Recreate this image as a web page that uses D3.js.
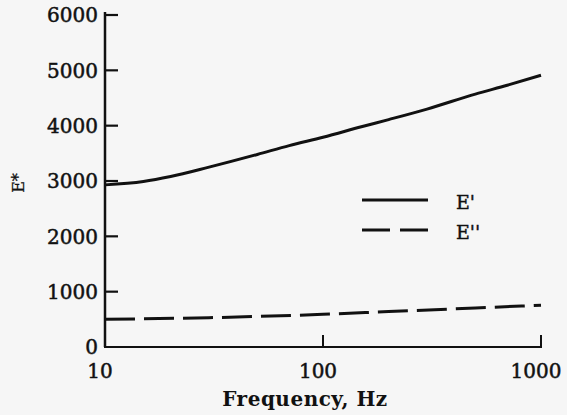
<!DOCTYPE html>
<html><head><meta charset="utf-8">
<script src="https://cdn.jsdelivr.net/npm/d3@7"></script>
<style>
html,body{margin:0;padding:0;background:#f6f6f6;}
svg{display:block;}
text{font-family:"DejaVu Serif","Liberation Serif",serif;fill:#111;}
</style></head>
<body>
<svg id="c" width="567" height="415"></svg>
<script>
// Data
const freqEp = [10, 15, 20, 30, 50, 70, 100, 150, 200, 300, 500, 700, 1000];
const valEp  = [2930, 2990, 3080, 3250, 3480, 3640, 3790, 3980, 4110, 4300, 4570, 4730, 4910];
const freqEpp = [10, 30, 100, 200, 500, 1000];
const valEpp  = [500, 530, 590, 640, 705, 755];
const yTicks = [0, 1000, 2000, 3000, 4000, 5000, 6000];
const xTicks = [10, 100, 1000];
const seriesNames = ["E'", "E''"];

const svg = d3.select("#c");
const x = d3.scaleLog().domain([10, 1000]).range([105, 541]);
const y = d3.scaleLinear().domain([0, 6000]).range([347, 15]);
const ink = "#111";

// axes lines
svg.append("line").attr("x1", x(10)).attr("x2", x(10)).attr("y1", y(0)).attr("y2", y(6000) - 3)
  .attr("stroke", ink).attr("stroke-width", 2.5);
svg.append("line").attr("x1", x(10) - 1).attr("x2", x(1000) + 1).attr("y1", y(0)).attr("y2", y(0))
  .attr("stroke", ink).attr("stroke-width", 2.2);

// y ticks (inward)
svg.selectAll(".yt").data(yTicks.filter(d => d > 0)).enter().append("line")
  .attr("x1", x(10)).attr("x2", x(10) + 13).attr("y1", d => y(d)).attr("y2", d => y(d))
  .attr("stroke", ink).attr("stroke-width", 2.2);
svg.selectAll(".yl").data(yTicks).enter().append("text")
  .attr("x", 98).attr("y", d => y(d)).attr("dy", "0.36em").attr("text-anchor", "end")
  .attr("font-size", 20).attr("stroke", ink).attr("stroke-width", 0.5).text(d => d);

// x ticks (inward)
svg.selectAll(".xt").data(xTicks.filter(d => d > 10)).enter().append("line")
  .attr("x1", d => x(d)).attr("x2", d => x(d)).attr("y1", y(0)).attr("y2", y(0) - 12)
  .attr("stroke", ink).attr("stroke-width", 2);
svg.selectAll(".xl").data(xTicks).enter().append("text")
  .attr("x", d => x(d) - 5).attr("y", 378).attr("text-anchor", "middle")
  .attr("font-size", 20).attr("stroke", ink).attr("stroke-width", 0.5).text(d => d);

// axis titles
svg.append("text").attr("x", 305).attr("y", 406).attr("text-anchor", "middle")
  .attr("font-size", 20).attr("font-weight", "bold").attr("letter-spacing", 0.5).text("Frequency, Hz");
svg.append("text").attr("transform", "translate(24,183) rotate(-90)")
  .attr("text-anchor", "middle").attr("font-size", 16).attr("stroke", ink).attr("stroke-width", 0.3).text("E*");

// curves
const line = d3.line().x(d => x(d[0])).y(d => y(d[1])).curve(d3.curveMonotoneX);
svg.append("path").datum(d3.zip(freqEp, valEp)).attr("d", line)
  .attr("fill", "none").attr("stroke", ink).attr("stroke-width", 3);
svg.append("path").datum(d3.zip(freqEpp, valEpp)).attr("d", line)
  .attr("fill", "none").attr("stroke", ink).attr("stroke-width", 3)
  .attr("stroke-dasharray", "30,9");

// legend
const lg = svg.append("g");
const rows = [{name: seriesNames[0], dash: null, yy: 200}, {name: seriesNames[1], dash: "28,10", yy: 230}];
rows.forEach(r => {
  lg.append("line").attr("x1", 362).attr("x2", 428).attr("y1", r.yy).attr("y2", r.yy)
    .attr("stroke", ink).attr("stroke-width", 3).attr("stroke-dasharray", r.dash);
  lg.append("text").attr("x", 456).attr("y", r.yy + 2).attr("dy", "0.36em")
    .attr("font-size", 19).attr("stroke", ink).attr("stroke-width", 0.4).text(r.name);
});
</script>
</body></html>
